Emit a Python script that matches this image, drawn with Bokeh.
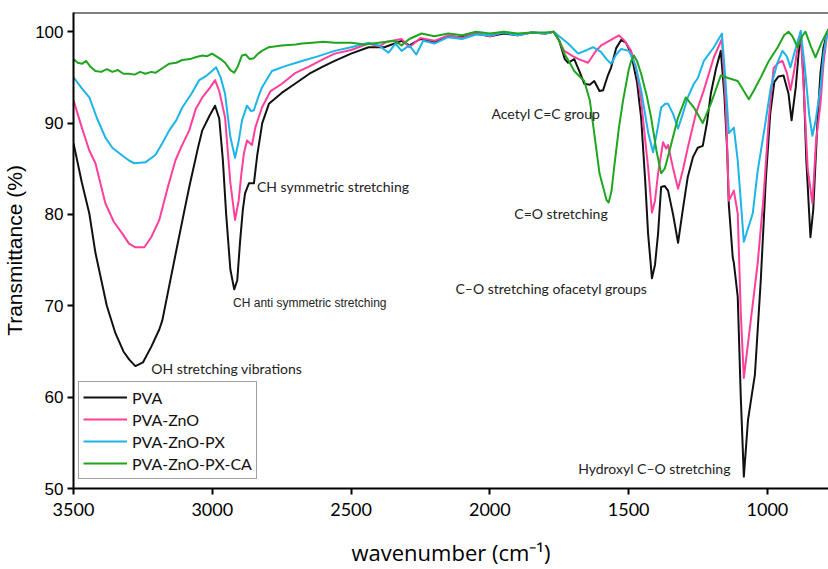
from bokeh.plotting import figure
from bokeh.models import Range1d, FixedTicker, Label, Span, Legend, LegendItem
from bokeh.embed import file_html
from bokeh.resources import INLINE

# ---------------- data ----------------
series_names = ["PVA", "PVA-ZnO", "PVA-ZnO-PX", "PVA-ZnO-PX-CA"]
series_colors = ["#111111", "#FF3F9B", "#1DB4E8", "#1FA51F"]

pva_wn = [3500, 3470, 3443, 3421, 3380, 3349, 3320, 3299, 3277, 3250, 3220, 3191, 3180, 3130,
          3100, 3083, 3050, 3036, 3010, 2990, 2975, 2962, 2950, 2935, 2921, 2910, 2900, 2890,
          2882, 2868, 2850, 2838, 2820, 2796, 2750, 2702, 2650, 2600, 2559, 2500, 2437, 2380,
          2318, 2290, 2250, 2200, 2150, 2100, 2050, 2000, 1950, 1900, 1850, 1800, 1770, 1750,
          1730, 1718, 1696, 1675, 1660, 1640, 1624, 1605, 1592, 1575, 1563, 1545, 1527, 1510,
          1491, 1470, 1455, 1440, 1430, 1416, 1405, 1394, 1383, 1370, 1358, 1340, 1322, 1305,
          1287, 1268, 1251, 1233, 1218, 1204, 1185, 1168, 1155, 1145, 1139, 1125, 1121, 1107,
          1096, 1085, 1070, 1060, 1045, 1024, 1006, 990, 975, 960, 942, 924, 913, 898, 888,
          880, 870, 860, 845, 835, 820, 809, 798, 784]
pva_t = [87.8, 83.5, 80.1, 75.8, 70.0, 67.0, 65.0, 64.1, 63.4, 63.8, 65.5, 67.4, 68.4, 76.0,
         80.5, 83.0, 87.5, 89.2, 90.8, 91.9, 90.5, 86.0, 80.0, 74.0, 71.8, 72.8, 77.0, 80.5,
         82.3, 83.4, 83.4, 86.5, 90.0, 92.1, 93.3, 94.3, 95.4, 96.2, 96.8, 97.6, 98.3, 98.3,
         99.0, 98.5, 99.2, 98.9, 99.5, 99.4, 99.8, 99.5, 99.8, 99.6, 99.9, 99.8, 100.0, 99.0,
         97.0, 96.6, 97.0, 95.5, 94.3, 94.2, 94.6, 93.5, 93.6, 95.2, 96.1, 98.2, 99.1, 98.8,
         97.6, 94.5, 90.6, 83.5, 77.9, 73.0, 74.5, 77.9, 83.0, 83.1, 82.6, 80.0, 76.9, 80.5,
         84.1, 86.3, 87.3, 87.5, 90.0, 93.2, 96.0, 97.9, 93.0, 87.0, 81.0, 75.3, 74.7, 71.0,
         60.0, 51.3, 57.5, 59.5, 62.5, 72.8, 83.7, 91.0, 94.5, 95.1, 95.2, 93.2, 90.3, 93.9, 97.5,
         99.8, 95.0, 86.0, 77.5, 80.5, 90.0, 95.5, 98.3, 100.0]

zno_wn = [3500, 3470, 3443, 3421, 3385, 3355, 3324, 3300, 3277, 3245, 3220, 3191, 3160, 3133,
          3110, 3083, 3060, 3036, 3010, 2990, 2975, 2954, 2935, 2918, 2905, 2895, 2886, 2875,
          2857, 2845, 2821, 2790, 2749, 2700, 2650, 2600, 2559, 2500, 2437, 2400, 2370, 2318,
          2290, 2250, 2200, 2150, 2100, 2050, 2000, 1950, 1900, 1850, 1800, 1770, 1750, 1732,
          1700, 1680, 1646, 1620, 1599, 1570, 1535, 1515, 1491, 1470, 1455, 1440, 1430, 1416,
          1405, 1394, 1376, 1365, 1358, 1341, 1322, 1305, 1287, 1258, 1229, 1193, 1164, 1150,
          1139, 1121, 1107, 1096, 1085, 1060, 1035, 1014, 995, 978, 960, 946, 930, 917, 905,
          890, 880, 868, 855, 838, 825, 809, 798, 784]
zno_t = [92.5, 89.5, 87.0, 85.6, 81.2, 79.2, 77.9, 76.8, 76.4, 76.4, 77.5, 79.4, 83.0, 85.9,
         87.5, 89.2, 91.5, 92.8, 93.8, 94.7, 93.5, 90.6, 83.5, 79.4, 81.5, 84.5, 86.7, 88.1,
         87.6, 89.5, 91.7, 93.5, 94.3, 95.5, 96.2, 97.0, 97.6, 98.0, 98.7, 98.4, 98.9, 99.2,
         98.3, 99.3, 99.0, 99.6, 99.3, 99.9, 99.5, 100.0, 99.6, 99.9, 99.8, 100.0, 99.0, 97.9,
         97.3, 97.0, 96.6, 97.8, 98.5, 99.0, 99.6, 99.0, 97.9, 95.5, 92.5, 88.0, 85.2, 80.2,
         81.5, 84.5, 87.9, 87.2, 87.6, 85.2, 82.8, 84.8, 87.3, 91.0, 93.6, 97.2, 99.2, 92.0,
         81.5, 82.6, 80.1, 69.2, 62.1, 68.4, 74.7, 81.9, 90.5, 96.0, 96.6, 96.8, 95.5, 93.6, 95.5,
         98.5, 99.9, 93.0, 85.0, 81.2, 88.0, 92.1, 96.5, 100.0]

px_wn = [3500, 3470, 3443, 3415, 3385, 3360, 3335, 3300, 3281, 3241, 3205, 3180, 3155, 3130,
         3108, 3075, 3047, 3020, 3001, 2986, 2970, 2954, 2935, 2918, 2905, 2893, 2875, 2860,
         2850, 2835, 2821, 2785, 2740, 2677, 2620, 2559, 2500, 2437, 2400, 2365, 2340, 2318,
         2290, 2265, 2240, 2200, 2150, 2100, 2050, 2000, 1950, 1900, 1850, 1800, 1770, 1750,
         1718, 1682, 1650, 1628, 1600, 1580, 1563, 1545, 1527, 1499, 1475, 1455, 1430, 1412,
         1395, 1383, 1368, 1358, 1340, 1322, 1305, 1287, 1265, 1251, 1229, 1193, 1164, 1152,
         1139, 1121, 1107, 1085, 1053, 1035, 1010, 988, 965, 946, 930, 917, 900, 880, 865,
         850, 838, 825, 809, 798, 784]
px_t = [95.0, 93.8, 92.8, 90.5, 88.4, 87.3, 86.7, 85.9, 85.6, 85.7, 86.5, 87.8, 89.2, 90.3,
        91.7, 93.2, 94.7, 95.2, 95.7, 96.1, 95.0, 93.2, 88.5, 86.2, 88.0, 90.3, 91.9, 91.3,
        91.4, 92.8, 93.9, 95.7, 96.2, 96.8, 97.3, 97.9, 98.3, 98.8, 98.5, 97.7, 98.7, 97.9,
        98.5, 97.5, 99.0, 98.7, 99.4, 99.2, 99.7, 99.6, 99.9, 99.6, 99.9, 99.8, 100.0, 99.5,
        98.7, 97.6, 98.0, 98.3, 97.8, 97.0, 96.5, 97.5, 98.1, 97.9, 96.3, 93.6, 89.0, 86.8,
        89.5, 91.7, 92.1, 92.1, 91.0, 89.4, 91.0, 92.8, 94.3, 94.9, 96.8, 98.3, 99.8, 95.0,
        88.9, 89.5, 85.9, 77.0, 80.1, 84.8, 89.5, 93.9, 96.5, 97.9, 97.3, 96.1, 98.0, 100.1, 96.0,
        91.0, 88.6, 90.5, 93.9, 97.5, 100.0]

ca_wn = [3500, 3485, 3468, 3455, 3440, 3421, 3400, 3380, 3360, 3340, 3320, 3299, 3280, 3260,
         3241, 3220, 3205, 3180, 3155, 3130, 3108, 3080, 3060, 3036, 3020, 3001, 2985, 2970,
         2954, 2935, 2921, 2908, 2893, 2880, 2865, 2850, 2835, 2821, 2796, 2750, 2700, 2677,
         2640, 2600, 2559, 2500, 2450, 2400, 2343, 2318, 2290, 2246, 2200, 2150, 2100, 2050,
         2000, 1950, 1900, 1850, 1800, 1770, 1750, 1732, 1710, 1696, 1660, 1640, 1624, 1605,
         1592, 1580, 1572, 1562, 1552, 1535, 1520, 1500, 1491, 1481, 1470, 1455, 1435, 1419, 1400,
         1383, 1370, 1355, 1340, 1322, 1294, 1265, 1233, 1204, 1168, 1139, 1107, 1085, 1067,
         1050, 1024, 995, 963, 940, 924, 910, 891, 875, 863, 845, 827, 805, 780]
ca_t = [97.0, 96.6, 96.5, 96.8, 96.2, 95.7, 95.6, 95.9, 95.6, 95.8, 95.4, 95.4, 95.3, 95.6,
        95.4, 95.6, 95.5, 96.0, 96.5, 96.6, 96.9, 97.0, 97.2, 97.4, 97.3, 97.6, 97.3, 97.0,
        96.6, 95.8, 95.5, 96.2, 97.4, 97.5, 97.0, 97.1, 97.6, 97.9, 98.3, 98.5, 98.6, 98.7,
        98.8, 98.9, 98.8, 98.8, 98.6, 98.8, 99.0, 98.5, 99.2, 99.8, 99.5, 99.8, 99.6, 100.0,
        99.8, 100.0, 99.8, 99.9, 99.9, 100.0, 99.0, 97.6, 96.5, 95.7, 94.6, 92.5, 88.9, 84.5,
        83.0, 81.6, 81.3, 82.5, 85.2, 89.5, 92.5, 95.8, 96.8, 97.4, 96.8, 95.4, 93.0, 90.6, 87.0,
        84.5, 85.0, 86.7, 88.5, 90.6, 92.8, 91.7, 90.0, 92.1, 95.2, 94.9, 94.6, 93.5, 92.6,
        93.5, 95.0, 96.8, 98.3, 99.6, 100.0, 99.5, 98.3, 99.5, 100.0, 98.5, 97.2, 98.8, 100.3]

x_ticks = [3500, 3000, 2500, 2000, 1500, 1000]
y_ticks = [50, 60, 70, 80, 90, 100]

annotations = [
    ("CH symmetric stretching", 2839, 83.1, "Lato", "14px"),
    ("CH anti symmetric stretching", 2925, 70.3, "Liberation Sans", "12px"),
    ("OH stretching vibrations", 3220, 63.1, "Lato", "14px"),
    ("Acetyl C=C group", 1994, 91.0, "Lato", "14px"),
    ("C=O stretching", 1912, 80.1, "Lato", "14px"),
    ("C\u2013O stretching ofacetyl groups", 2124, 71.9, "Lato", "14px"),
    ("Hydroxyl C\u2013O stretching", 1682, 52.2, "Lato", "14px"),
]

# ---------------- figure ----------------
p = figure(width=828, height=569, output_backend="svg", toolbar_location=None,
           x_range=Range1d(3500, 780), y_range=Range1d(50, 102.1),
           min_border_left=71, min_border_right=0, min_border_top=12, min_border_bottom=80)
p.outline_line_color = None
p.grid.visible = False
p.background_fill_color = "white"
p.border_fill_color = "white"

all_wn = [pva_wn, zno_wn, px_wn, ca_wn]
all_t = [pva_t, zno_t, px_t, ca_t]
items = []
for name, col, wn, t in zip(series_names, series_colors, all_wn, all_t):
    r = p.line(wn, t, line_color=col, line_width=2.0, line_join="round")
    items.append(LegendItem(label=name, renderers=[r]))

legend = Legend(items=items, location=(5, 9), margin=0, padding=4, spacing=0,
                label_height=22, glyph_height=22, glyph_width=44, label_standoff=5,
                label_text_font="Lato", label_text_font_size="16px",
                label_text_color="#111111",
                border_line_color="#444444", border_line_width=1,
                background_fill_alpha=1.0)
p.add_layout(legend, "center")

p.add_layout(Span(location=102.1, dimension="width", line_color="black", line_width=2))

for txt, x, y, font, size in annotations:
    p.add_layout(Label(x=x, y=y, text=txt, text_font=font, text_font_size=size,
                       text_baseline="middle", text_align="left", text_color="#222222"))

for ax in (p.xaxis[0], p.yaxis[0]):
    ax.axis_line_width = 2
    ax.major_tick_line_width = 2
    ax.major_tick_out = 6
    ax.major_tick_in = 0
    ax.minor_tick_line_color = None
    ax.major_label_text_color = "black"
    ax.axis_label_text_font_style = "normal"
    ax.axis_label_text_color = "black"

p.xaxis.ticker = FixedTicker(ticks=x_ticks)
p.yaxis.ticker = FixedTicker(ticks=y_ticks)
p.xaxis.major_label_text_font = "Lato"
p.xaxis.major_label_text_font_size = "18px"
p.yaxis.major_label_text_font = "Liberation Sans"
p.yaxis.major_label_text_font_size = "17px"
p.xaxis.axis_label = "wavenumber (cm\u207b\u00b9)"
p.xaxis.axis_label_text_font = "Open Sans"
p.xaxis.axis_label_text_font_size = "22px"
p.xaxis.axis_label_standoff = 18
p.xaxis.major_label_standoff = 8
p.yaxis.axis_label = "Transmittance (%)"
p.yaxis.axis_label_text_font = "Liberation Sans"
p.yaxis.axis_label_text_font_size = "21px"
p.yaxis.axis_label_standoff = 6
p.yaxis.major_label_standoff = 4

open("out.html", "w").write(file_html(p, INLINE))
